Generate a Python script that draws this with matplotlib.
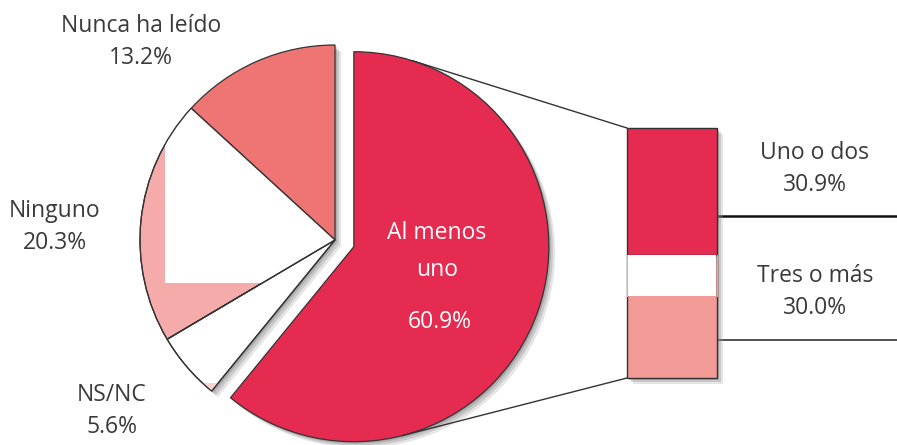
import numpy as np
import matplotlib
matplotlib.use("Agg")
import matplotlib.pyplot as plt
import matplotlib.patches as mpatches
import matplotlib.patheffects as pe

plt.rcParams['font.family'] = ['Open Sans', 'DejaVu Sans']

# data
pie_labels = ['Nunca ha leído', 'Ninguno', 'NS/NC', 'Al menos uno']
pie_values = [13.2, 20.3, 5.6, 60.9]
pie_colors = ['#EF7574', '#F5ABA9', '#FFFFFF', '#E62B50']

bar_labels = ['Tres o más', 'Uno o dos']
bar_values = [30.0, 30.9]
bar_colors = ['#F29A96', '#E62B50']

W, H = 897, 445
fig = plt.figure(figsize=(W / 100, H / 100), dpi=100)
ax = fig.add_axes([0, 0, 1, 1])

# pixel helper: image y (top-down) -> data y
def iy(y):
    return H - y

cx, cy, r = 335, iy(240), 195
shadow = [pe.SimplePatchShadow(offset=(4.5, -4.5), shadow_rgbFace='#999999', alpha=0.25),
          pe.SimplePatchShadow(offset=(3, -3), shadow_rgbFace='#888888', alpha=0.3),
          pe.SimplePatchShadow(offset=(1.5, -1.5), shadow_rgbFace='#777777', alpha=0.35),
          pe.Normal()]

wedges, _ = ax.pie(pie_values, colors=pie_colors, startangle=90, counterclock=True,
                   radius=r, center=(cx, cy), frame=True,
                   wedgeprops=dict(edgecolor='#333333', linewidth=0.9))
ax.set_xlim(0, W)
ax.set_ylim(0, H)
ax.set_aspect('equal')
ax.axis('off')

# explode main slice to the right
main = wedges[3]
mid = np.deg2rad(0.5 * (main.theta1 + main.theta2))
off = 20
main.set_center((cx + off * np.cos(mid), cy + off * np.sin(mid)))
for w in wedges:
    w.set_path_effects(shadow)

# white artefacts from the original rendering
art = mpatches.Rectangle((165, iy(283)), 180, 250, facecolor='white', edgecolor='none', zorder=1.5)
ax.add_patch(art)
art.set_clip_path(wedges[1])
art2 = mpatches.Rectangle((150, iy(397)), 73, 14, facecolor='#FAD3D0', edgecolor='none', zorder=1.5)
ax.add_patch(art2)
art2.set_clip_path(wedges[2])
for w in wedges[1:3]:
    ow = mpatches.Wedge(w.center, w.r, w.theta1, w.theta2, facecolor='none',
                        edgecolor='#333333', linewidth=0.9, zorder=1.6)
    ax.add_patch(ow)

# bar of pie
bx0, bx1 = 627, 717
bw = bx1 - bx0
b_bottom, b_top = iy(378), iy(128)
scale = (b_top - b_bottom) / sum(bar_values)
bottom = b_bottom
for v, c in zip(bar_values, bar_colors):
    b = ax.bar(bx0 + bw / 2, v * scale, width=bw, bottom=bottom, color=c,
               edgecolor='#333333', linewidth=1.0, zorder=3)
    b[0].set_path_effects(shadow)
    bottom += v * scale
gap = mpatches.Rectangle((bx0 + 1, iy(296)), bw - 2, 41, facecolor='white', edgecolor='none', zorder=3.5)
ax.add_patch(gap)
ax.plot([bx0, bx0], [iy(296), iy(255)], color='#bbbbbb', lw=0.8, zorder=3.6)
ax.plot([bx1, bx1], [iy(296), iy(255)], color='#bbbbbb', lw=0.8, zorder=3.6)

# connector lines tangent to the exploded slice
mcx, mcy = main.center
for px, py, sgn in [(bx0, b_top, 1), (bx0, b_bottom, -1)]:
    dx, dy = px - mcx, py - mcy
    d = np.hypot(dx, dy)
    a = np.arctan2(dy, dx) + sgn * np.arccos(r / d)
    tx, ty = mcx + r * np.cos(a), mcy + r * np.sin(a)
    ax.plot([tx, px], [ty, py], color='#333333', lw=1.0, zorder=2.5)

# label leader lines
ax.plot([bx1, W], [iy(216), iy(216)], color='#111111', lw=1.8, zorder=2.5)
ax.plot([bx1, W], [iy(340), iy(340)], color='#333333', lw=1.2, zorder=2.5)

fs = 16.5
tc = '#3a3a3a'
ax.text(141, iy(42), f"{pie_labels[0]}\n{pie_values[0]:.1f}%", ha='center', va='center',
        fontsize=fs, color=tc, linespacing=1.4)
ax.text(55, iy(227), f"{pie_labels[1]}\n{pie_values[1]:.1f}%", ha='center', va='center',
        fontsize=fs, color=tc, linespacing=1.4)
ax.text(112, iy(411), f"{pie_labels[2]}\n{pie_values[2]:.1f}%", ha='center', va='center',
        fontsize=fs, color=tc, linespacing=1.4)
ax.text(437, iy(233), "Al menos", ha='center', va='center', fontsize=fs, color='white', zorder=5)
ax.text(437, iy(270), "uno", ha='center', va='center', fontsize=fs, color='white', zorder=5)
ax.text(440, iy(322), f"{pie_values[3]:.1f}%", ha='center', va='center', fontsize=fs, color='white', zorder=5)
ax.text(815, iy(169), f"{bar_labels[1]}\n{bar_values[1]:.1f}%", ha='center', va='center',
        fontsize=fs, color=tc, linespacing=1.4)
ax.text(815, iy(292), f"{bar_labels[0]}\n{bar_values[0]:.1f}%", ha='center', va='center',
        fontsize=fs, color=tc, linespacing=1.4)

fig.savefig("out.png", dpi=100)
